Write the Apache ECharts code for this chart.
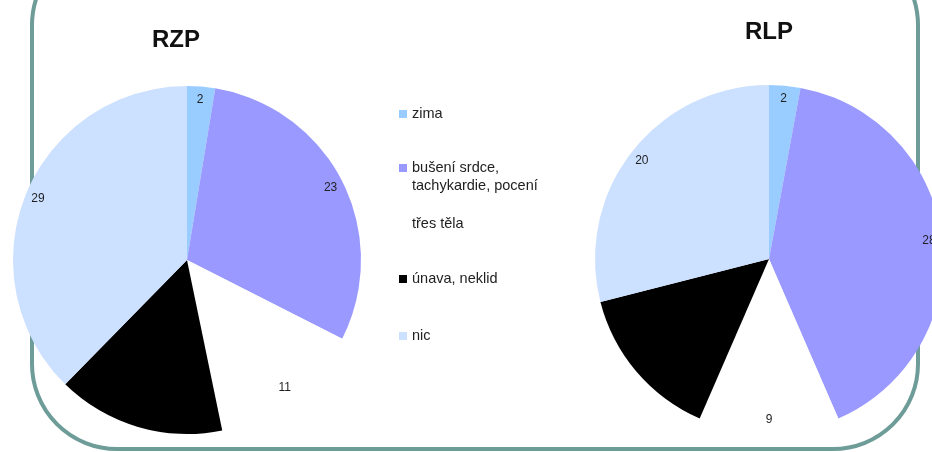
<!DOCTYPE html>
<html>
<head>
<meta charset="utf-8">
<script src="https://cdn.jsdelivr.net/npm/echarts@6/dist/echarts.min.js"></script>
<style>
  html, body { margin: 0; padding: 0; background: #fff; }
  #chart { width: 932px; height: 452px; }
</style>
</head>
<body>
<div id="chart"></div>
<script>
// kategorie (legenda) a hodnoty obou grafu
var categories = ["zima", "bušení srdce,\ntachykardie, pocení", "třes těla", "únava, neklid", "nic"];
var colors = ["#99ccff", "#9999ff", "#ffffff", "#000000", "#cce0ff"];
var rzpValues = [2, 23, 11, 12, 29];
var rlpValues = [2, 28, 9, 10, 20];

var legendTops = [105, 159, 215, 270, 327];

function makeData(values, withColor) {
  return values.map(function (v, i) {
    var item = { name: categories[i], value: v };
    if (withColor) {
      item.itemStyle = { color: colors[i] };
    }
    item.label = { color: colors[i] === "#000000" ? "#000" : "#1f1f1f" };
    return item;
  });
}

function pieSeries(center, values) {
  return [
    {
      type: "pie",
      center: center,
      radius: [0, 174],
      startAngle: 90,
      clockwise: true,
      silent: true,
      itemStyle: { borderWidth: 0 },
      label: { show: false },
      labelLine: { show: false },
      data: makeData(values, true),
      z: 2
    },
    {
      // jen popisky, umistene blizko okraje vysece
      type: "pie",
      center: center,
      radius: [142, 174],
      startAngle: 90,
      clockwise: true,
      silent: true,
      legendHoverLink: false,
      itemStyle: { color: "rgba(0,0,0,0)", borderWidth: 0 },
      label: {
        show: true,
        position: "inside",
        formatter: "{c}",
        fontFamily: "Liberation Sans",
        fontSize: 12
      },
      labelLine: { show: false },
      data: makeData(values, false),
      z: 3
    }
  ];
}

var legends = categories.map(function (name, i) {
  var twoLines = name.indexOf("\n") >= 0;
  return {
    orient: "vertical",
    left: 399,
    top: legendTops[i],
    padding: 0,
    // u dvouradkove polozky je ctverecek u prvniho radku
    icon: twoLines ? "path://M0,0L8,0L8,8L0,8Z M0,26L8,26L8,25.97L0,25.97Z" : "rect",
    itemWidth: 8,
    itemHeight: twoLines ? 26 : 8,
    itemGap: 0,
    selectedMode: false,
    textStyle: {
      fontFamily: "Liberation Sans",
      fontSize: 14.5,
      lineHeight: 18,
      color: "#222"
    },
    data: [name]
  };
});

var chart = echarts.init(document.getElementById("chart"));
chart.setOption({
  backgroundColor: "#ffffff",
  color: colors,
  animation: false,
  title: [
    {
      text: "RZP",
      left: 176,
      top: 28,
      padding: 0,
      textAlign: "center",
      textStyle: { fontFamily: "Liberation Sans", fontSize: 24, fontWeight: "bold", color: "#111" }
    },
    {
      text: "RLP",
      left: 769,
      top: 20,
      padding: 0,
      textAlign: "center",
      textStyle: { fontFamily: "Liberation Sans", fontSize: 24, fontWeight: "bold", color: "#111" }
    }
  ],
  legend: legends,
  graphic: [
    {
      type: "rect",
      z: 0,
      silent: true,
      shape: { x: 32, y: -60, width: 886, height: 509, r: 85 },
      style: { fill: "none", stroke: "#6e9c98", lineWidth: 4 }
    }
  ],
  series: pieSeries([187, 260], rzpValues).concat(pieSeries([769, 259], rlpValues))
});
</script>
</body>
</html>
